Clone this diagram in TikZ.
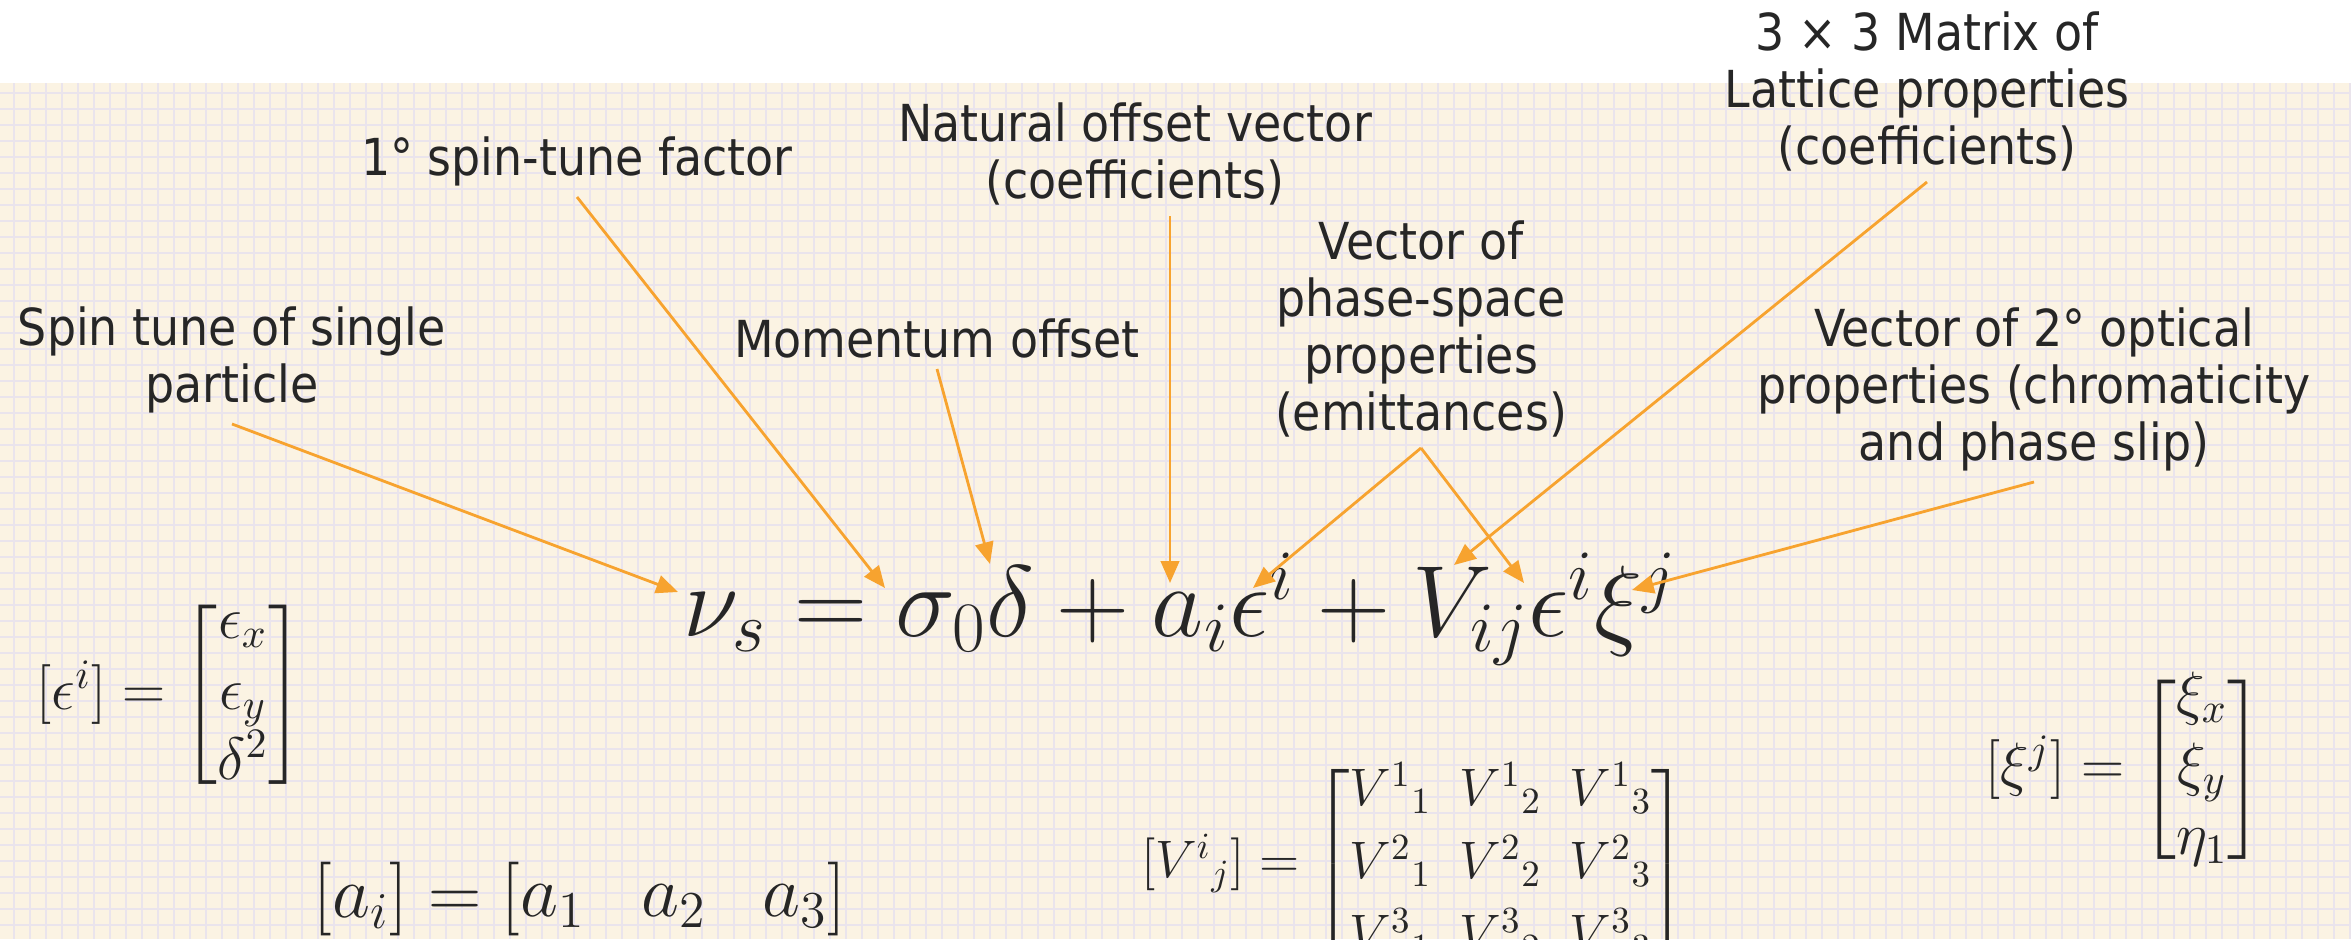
\RequirePackage{fix-cm}
\documentclass[tikz,border=0pt]{standalone}
\usepackage{amsmath,amssymb}
\usepackage{fontspec}
\newfontfamily\lblfont{DejaVu Sans Condensed}
\usepackage{tikz}
\usetikzlibrary{arrows.meta}
\definecolor{paper}{HTML}{FBF3E3}
\definecolor{gridc}{HTML}{EAE4EC}
\definecolor{pointer}{HTML}{F7A32F}
\definecolor{ink}{HTML}{262626}
% tight brackets round the component matrices
\delimiterfactor=750
\delimitershortfall=14pt

\begin{document}
\begin{tikzpicture}[x=0.01cm,y=-0.01cm,
  lbl/.style={font=\lblfont\fontsize{14.5}{16.2}\selectfont,text=ink,align=center,inner sep=3pt,anchor=south},
  eqn/.style={text=ink,inner sep=0pt},
  ptr/.style={draw=pointer,line width=0.8pt,-{Triangle[length=6.2pt,width=5.2pt]}},
  gridline/.style={draw=gridc,line width=0.55pt}]
  \useasboundingbox (0,0) rectangle (2351,939);
  % graph paper
  \fill[paper] (0,83) rectangle (2351,939);
  \foreach \gx in {14,30,...,2350} \draw[gridline] (\gx,83) -- (\gx,939);
  \foreach \gy in {92.7,108.7,...,939} \draw[gridline] (0,\gy) -- (2351,\gy);

  % the spin tune expansion
  \node[eqn,anchor=base,font=\fontsize{28.8}{33}\selectfont] (spineq) at (1180,636)
       {$\nu_s = \sigma_0\delta + a_i\epsilon^i + V_{ij}\epsilon^i\xi^j$};
  \coordinate (nu-tip) at (678,592);
  \coordinate (sig-tip) at (885,588);
  \coordinate (del-tip) at (990,564);
  \coordinate (a-tip) at (1170,583);
  \coordinate (eps-tip) at (1253,588);
  \coordinate (V-tip) at (1454,565);
  \coordinate (eps2-tip) at (1524,583);
  \coordinate (xi-tip) at (1632,590);

  % labels
  \node[lbl] (spintune) at (232,424) {Spin tune of single\\particle};
  \node[lbl] (firstord) at (577,197) {1° spin-tune factor};
  \node[lbl] (momoff) at (937,369) {Momentum offset};
  \node[lbl] (natoff) at (1135,216) {Natural offset vector\\(coefficients)};
  \node[lbl] (emit) at (1421,448) {Vector of\\phase-space\\properties\\(emittances)};
  \node[lbl] (lattice) at (1927,182) {3 × 3 Matrix of\\Lattice properties\\(coefficients)};
  \node[lbl] (optics) at (2034,482) {Vector of 2° optical\\properties (chromaticity\\and phase slip)};

  \draw[ptr] (spintune.south) -- (nu-tip);
  \draw[ptr] (firstord.south) -- (sig-tip);
  \draw[ptr] (momoff.south) -- (del-tip);
  \draw[ptr] (natoff.south -| a-tip) -- (a-tip);
  \draw[ptr] (emit.south) -- (eps-tip);
  \draw[ptr] (emit.south) -- (eps2-tip);
  \draw[ptr] (lattice.south) -- (V-tip);
  \draw[ptr] (optics.south) -- (xi-tip);

  % component definitions
  \node[eqn,font=\fontsize{17}{20}\selectfont] (epsvec) at (170,695)
       {$\left[\epsilon^i\right] = \begin{bmatrix}\epsilon_x\\ \epsilon_y\\ \delta^2\end{bmatrix}$};
  \node[eqn,anchor=base,font=\fontsize{21}{25}\selectfont] (avec) at (580,917)
       {$\setlength{\arraycolsep}{8pt}[a_i] = \begin{bmatrix}a_1 & a_2 & a_3\end{bmatrix}$};
  \node[eqn,font=\fontsize{15}{18.5}\selectfont] (Vmat) at (1414,864)
       {$\setlength{\arraycolsep}{4pt}\renewcommand{\arraystretch}{1.12}\left[{V^i}_j\right] = \begin{bmatrix}{V^1}_1 & {V^1}_2 & {V^1}_3\\ {V^2}_1 & {V^2}_2 & {V^2}_3\\ {V^3}_1 & {V^3}_2 & {V^3}_3\end{bmatrix}$};
  \node[eqn,font=\fontsize{17}{20}\selectfont] (xivec) at (2124,770)
       {$\left[\xi^j\right] = \begin{bmatrix}\xi_x\\ \xi_y\\ \eta_1\end{bmatrix}$};
\end{tikzpicture}
\end{document}
